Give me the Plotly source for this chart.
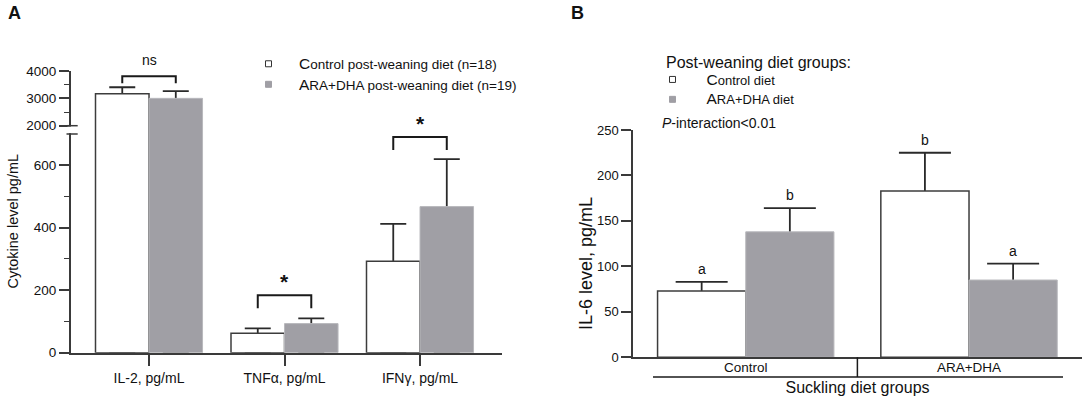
import plotly.graph_objects as go

# ---- panel A: cytokines after stimulation (mean, SEM) ----
cytokines = ["IL-2, pg/mL", "TNFα, pg/mL", "IFNγ, pg/mL"]
ctrl_mean = [3170, 62, 292]
ctrl_sem = [235, 16, 120]
aradha_mean = [3000, 93, 467]
aradha_sem = [267, 17, 152]
sig_labels = ["ns", "*", "*"]

# ---- panel B: IL-6 by suckling x post-weaning diet ----
suckling = ["Control", "ARA+DHA"]
il6_ctrl_mean = [73, 183]
il6_ctrl_sem = [10, 42]
il6_aradha_mean = [138, 85]
il6_aradha_sem = [26, 18]
il6_ctrl_letters = ["a", "b"]
il6_aradha_letters = ["b", "a"]

W, H = 1084, 404
FONT = "Liberation Sans, Arial, sans-serif"
AX = "#3a3a3a"
INK = "#111111"
WHITE_FILL, WHITE_LINE = "#ffffff", "#3c3c3c"
GREY_FILL, GREY_LINE = "#a09fa5", "#b8b8bc"
BARGAP = 0.21
OFF = (1 - BARGAP) / 4  # centre of each bar relative to category


def px_x(p):
    return p / W


def px_y(p):
    return 1 - p / H


# axis geometry (pixels); the two halves of the broken axis overlap by 2px
A_LO = dict(domain=[px_y(352.7), px_y(129)], range=[0, (352.7 - 129) / 0.3128])
A_HI = dict(domain=[px_y(131), px_y(71)], range=[2000 - (131 - 125.7) * 2000 / 54.7, 4000])


def units_per_px(ax):
    return (ax["range"][1] - ax["range"][0]) / ((ax["domain"][1] - ax["domain"][0]) * H)


fig = go.Figure()


def add_series(xa, ya, cats, mean, sem, fill, line, lw, group, cap):
    # error bars on a transparent carrier so the visible bar hides the lower half
    fig.add_trace(go.Bar(
        x=cats, y=mean, xaxis=xa, yaxis=ya, offsetgroup=group,
        marker=dict(color="rgba(0,0,0,0)", line=dict(width=0)),
        error_y=dict(type="data", symmetric=False, array=sem, arrayminus=mean,
                     color="#2a2a2a", thickness=1.8, width=cap),
        showlegend=False, hoverinfo="skip"))
    fig.add_trace(go.Bar(
        x=cats, y=mean, xaxis=xa, yaxis=ya, offsetgroup=group,
        marker=dict(color=fill, line=dict(color=line, width=lw)),
        showlegend=False))


for ya in ["y", "y2"]:
    add_series("x", ya, cytokines, ctrl_mean, ctrl_sem, WHITE_FILL, WHITE_LINE, 1.5, "c", 13)
    add_series("x", ya, cytokines, aradha_mean, aradha_sem, GREY_FILL, GREY_LINE, 1, "a", 13)

add_series("x3", "y3", suckling, il6_ctrl_mean, il6_ctrl_sem, WHITE_FILL, WHITE_LINE, 1.5, "c", 26)
add_series("x3", "y3", suckling, il6_aradha_mean, il6_aradha_sem, GREY_FILL, GREY_LINE, 1, "a", 26)

# legend entries
big = "<span style='font-size:15.5px'>%s</span>%s"
legend_items = [
    ("legend", "x", "y", big % ("C", "ontrol post-weaning diet (n=18)"), "white", "#333"),
    ("legend", "x", "y", big % ("A", "RA+DHA post-weaning diet (n=19)"), GREY_FILL, GREY_FILL),
    ("legend2", "x3", "y3", big % ("C", "ontrol diet"), "white", "#333"),
    ("legend2", "x3", "y3", big % ("A", "RA+DHA diet"), GREY_FILL, GREY_FILL),
]
for lg, xa, ya, name, fc, lc in legend_items:
    fig.add_trace(go.Scatter(x=[None], y=[None], mode="markers", legend=lg,
                             xaxis=xa, yaxis=ya, name=name,
                             marker=dict(symbol="square", size=6, color=fc,
                                         line=dict(color=lc, width=1))))

axis_common = dict(showline=True, linecolor=AX, linewidth=1.5, ticks="outside",
                   tickcolor=AX, tickwidth=1.5, showgrid=False, zeroline=False,
                   tickfont=dict(size=13.5, color=INK))

shapes = []
annotations = []

# significance brackets, panel A
gap_px = [4, 10, 9]
leg_px = [7, 13, 13]
for i, cat in enumerate(cytokines):
    top = max(ctrl_mean[i] + ctrl_sem[i], aradha_mean[i] + aradha_sem[i])
    ax, yref = (A_HI, "y2") if top > A_LO["range"][1] else (A_LO, "y")
    u = units_per_px(ax)
    y0 = top + gap_px[i] * u
    y1 = y0 + leg_px[i] * u
    shapes.append(dict(type="path", xref="x", yref=yref,
                       path="M %f,%f L %f,%f L %f,%f L %f,%f" % (
                           i - OFF, y0, i - OFF, y1, i + OFF, y1, i + OFF, y0),
                       line=dict(color="#1a1a1a", width=2)))
    star = sig_labels[i] == "*"
    annotations.append(dict(x=i, y=y1, xref="x", yref=yref,
                            text="<b>*</b>" if star else sig_labels[i],
                            showarrow=False, yanchor="bottom",
                            yshift=0 if star else 6,
                            font=dict(size=21 if star else 14, color=INK)))

# axis break marks
shapes += [
    dict(type="rect", xref="paper", yref="paper", x0=px_x(67.5), x1=px_x(74),
         y0=px_y(133.2), y1=px_y(126.6), fillcolor="white", line=dict(width=0)),
    dict(type="line", xref="paper", yref="paper", x0=px_x(66.5), x1=px_x(77.7),
         y0=px_y(125.7), y1=px_y(125.7), line=dict(color=AX, width=1.5)),
    dict(type="line", xref="paper", yref="paper", x0=px_x(66.5), x1=px_x(77.7),
         y0=px_y(134), y1=px_y(134), line=dict(color=AX, width=1.5)),
]

# panel B group divider and underline
shapes += [
    dict(type="line", xref="x3", yref="paper", x0=0.5, x1=0.5,
         y0=px_y(357.3), y1=px_y(377), line=dict(color="#1a1a1a", width=1.5)),
    dict(type="line", xref="paper", yref="paper", x0=px_x(653), x1=px_x(1063),
         y0=px_y(377), y1=px_y(377), line=dict(color="#1a1a1a", width=1.5)),
]

# letters above panel B bars
for i in range(len(suckling)):
    annotations.append(dict(x=i - OFF, y=il6_ctrl_mean[i] + il6_ctrl_sem[i], xref="x3", yref="y3",
                            text=il6_ctrl_letters[i], showarrow=False, yanchor="bottom",
                            yshift=3, font=dict(size=14, color=INK)))
    annotations.append(dict(x=i + OFF, y=il6_aradha_mean[i] + il6_aradha_sem[i], xref="x3", yref="y3",
                            text=il6_aradha_letters[i], showarrow=False, yanchor="bottom",
                            yshift=3, font=dict(size=14, color=INK)))


def label(x, y, text, size, xanchor="center", angle=0):
    return dict(x=px_x(x), y=px_y(y), xref="paper", yref="paper", text=text,
                xanchor=xanchor, yanchor="middle", textangle=angle,
                showarrow=False, font=dict(size=size, color=INK))


annotations += [
    label(14, 13, "<b>A</b>", 18),
    label(577, 13, "<b>B</b>", 18),
    label(12.5, 221, "Cytokine level pg/mL", 14.5, angle=-90),
    label(586, 264, "IL-6 level, pg/mL", 18, angle=-90),
    label(664, 62, "Post-weaning diet groups:", 16, xanchor="left"),
    label(660, 123, "<i>P</i>-interaction&lt;0.01", 14, xanchor="left"),
]

fig.update_layout(
    width=W, height=H, margin=dict(l=0, r=0, t=0, b=0, autoexpand=False),
    paper_bgcolor="white", plot_bgcolor="white",
    font=dict(family=FONT, size=13.5, color=INK),
    barmode="group", bargap=BARGAP, bargroupgap=0,
    xaxis=dict(axis_common, domain=[px_x(70.7), px_x(502)], range=[-0.578, 2.605],
               anchor="y", ticklen=12, tickfont=dict(size=14, color=INK)),
    yaxis=dict(axis_common, domain=A_LO["domain"], range=A_LO["range"], anchor="x",
               tickvals=[0, 200, 400, 600], ticklen=10,
               minor=dict(tickvals=[100, 300, 500], ticks="outside", ticklen=5,
                          tickcolor=AX, tickwidth=1.2)),
    yaxis2=dict(axis_common, domain=A_HI["domain"], range=A_HI["range"], anchor="x",
                tickvals=[2000, 3000, 4000], ticklen=10,
                minor=dict(tickvals=[2500, 3500], ticks="outside", ticklen=5,
                           tickcolor=AX, tickwidth=1.2)),
    xaxis3=dict(axis_common, domain=[px_x(633), px_x(1082)], range=[-0.505, 1.506],
                anchor="y3", ticks="", ticklen=0, ticklabelstandoff=-3,
                title=dict(text="Suckling diet groups", standoff=8,
                           font=dict(size=16, color=INK))),
    yaxis3=dict(axis_common, domain=[px_y(357.3), px_y(130)], range=[0, 250], anchor="x3",
                tickvals=[0, 50, 100, 150, 200, 250], ticklen=10,
                tickfont=dict(size=13, color=INK)),
    legend=dict(x=px_x(238), y=px_y(48.5), xanchor="left", yanchor="top",
                bgcolor="rgba(0,0,0,0)", font=dict(size=13.5, color=INK),
                tracegroupgap=0, itemwidth=51),
    legend2=dict(x=px_x(638.5), y=px_y(64.5), xanchor="left", yanchor="top",
                 bgcolor="rgba(0,0,0,0)", font=dict(size=13, color=INK),
                 tracegroupgap=0, itemwidth=58),
    shapes=shapes, annotations=annotations,
)

# the page's default body margin would push the figure off by 8px
fig.write_html("out.html", config={"displayModeBar": False},
               post_script="document.body.style.margin='0px';")
